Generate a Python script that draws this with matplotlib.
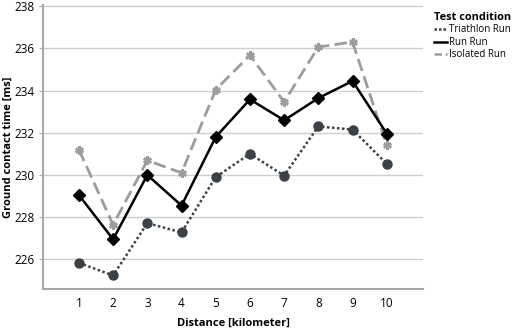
import matplotlib
matplotlib.use("Agg")
import matplotlib.pyplot as plt
from matplotlib.lines import Line2D

distance = [1, 2, 3, 4, 5, 6, 7, 8, 9, 10]
triathlon_run = [225.84, 225.24, 227.72, 227.28, 229.90, 231.00, 229.97, 232.30, 232.15, 230.53]
run_run = [229.05, 226.95, 230.00, 228.55, 231.80, 233.58, 232.59, 233.64, 234.45, 231.96]
isolated_run = [231.20, 227.64, 230.69, 230.10, 234.04, 235.67, 233.46, 236.06, 236.30, 231.40]
yticks = [226, 228, 230, 232, 234, 236, 238]

plt.rcParams['font.family'] = ['Open Sans', 'DejaVu Sans']

fig = plt.figure(figsize=(5.13, 3.31), dpi=100)
ax = fig.add_axes([43/513, 1-289/331, (423-43)/513, (289-5)/331])

ax.set_xlim(-0.05, 11.06)
ax.set_ylim(224.6, 238.05)
ax.set_yticks(yticks)
ax.set_xticks(distance)
ax.grid(axis='y', color='#cfcfcf', linewidth=1.0)
ax.set_axisbelow(True)

ax.plot(distance, isolated_run, color='#9c9c9c', linestyle=(0, (4.5, 2)), linewidth=2.0,
        marker=(6, 2, 0), markersize=6, markeredgewidth=1.8, markeredgecolor='#9c9c9c', zorder=3)
ax.plot(distance, run_run, color='#000000', linestyle='-', linewidth=1.8,
        marker='D', markersize=6.5, markerfacecolor='#000000', zorder=4)
ax.plot(distance, triathlon_run, color='#3b4146', linestyle=(0, (1, 1)), linewidth=1.8,
        marker='o', markersize=6.5, markerfacecolor='#3b4146', markeredgecolor='#3b4146', zorder=5)

for s in ['top', 'right']:
    ax.spines[s].set_visible(False)
ax.spines['left'].set_color('#a8a8a8')
ax.spines['left'].set_linewidth(1.5)
ax.spines['bottom'].set_color('#a8a8a8')
ax.spines['bottom'].set_linewidth(1.5)
ax.tick_params(axis='y', length=3, color='#a8a8a8', labelsize=8.5, pad=3)
ax.tick_params(axis='x', length=0, labelsize=8.5, pad=6)

ax.set_xlabel('Distance [kilometer]', fontsize=8, fontweight='bold', va='center')
ax.set_ylabel('Ground contact time [ms]', fontsize=8, fontweight='bold', va='center')
ax.xaxis.set_label_coords(0.5, -(323-289)/284)
ax.yaxis.set_label_coords((8-43)/380, 0.5)

handles = [
    Line2D([], [], color='#3b4146', linestyle=(0, (1, 0.8)), linewidth=1.8),
    Line2D([], [], color='#000000', linestyle='-', linewidth=1.8),
    Line2D([], [], color='#9c9c9c', linestyle=(0, (3, 1.5)), linewidth=1.8),
]
leg = fig.legend(handles, ['Triathlon Run', 'Run Run', 'Isolated Run'],
                 title='Test condition', loc='upper left', bbox_to_anchor=(434/513, 1-12/331),
                 frameon=False, fontsize=7, handlelength=1.3, handletextpad=0.2,
                 labelspacing=0.15, borderaxespad=0, borderpad=0)
leg.get_title().set_fontweight('bold')
leg.get_title().set_fontsize(7.9)
leg._legend_box.align = 'left'

fig.savefig('out.png', dpi=100)
